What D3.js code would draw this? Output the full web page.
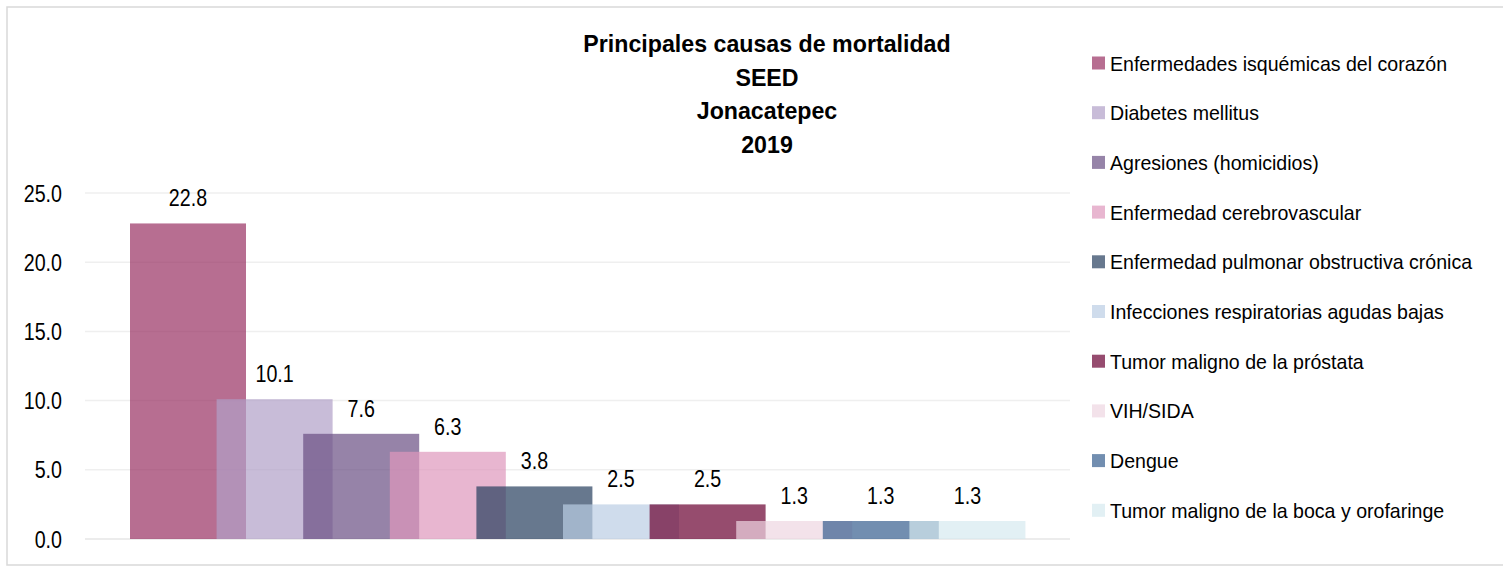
<!DOCTYPE html>
<html>
<head>
<meta charset="utf-8">
<script src="https://cdn.jsdelivr.net/npm/d3@7"></script>
<style>
  body { margin: 0; background: #fff; }
  text { font-family: "Liberation Sans", Arial, sans-serif; fill: #000; }
</style>
</head>
<body>
<svg id="chart"></svg>
<script>
const causes = [
  "Enfermedades isquémicas del corazón",
  "Diabetes mellitus",
  "Agresiones (homicidios)",
  "Enfermedad cerebrovascular",
  "Enfermedad pulmonar obstructiva crónica",
  "Infecciones respiratorias agudas bajas",
  "Tumor maligno de la próstata",
  "VIH/SIDA",
  "Dengue",
  "Tumor maligno de la boca y orofaringe"
];
const rates = [22.8, 10.1, 7.6, 6.3, 3.8, 2.5, 2.5, 1.3, 1.3, 1.3];
const yTicks = [0, 5, 10, 15, 20, 25];
const titleLines = ["Principales causas de mortalidad", "SEED", "Jonacatepec", "2019"];
// colour as seen over white; bars are drawn with some transparency
const seenColors = ["#b76e91", "#c8bcd8", "#9684a8", "#e8b6d0", "#67788e",
                    "#cfdcec", "#964c6f", "#f3e2ea", "#728eb0", "#e2f0f4"];

const W = 1503, H = 566;
const alpha = 0.7;
const trueColor = c => {
  const s = d3.rgb(c);
  const f = v => Math.max(0, Math.min(255, (v - (1 - alpha) * 255) / alpha));
  return d3.rgb(f(s.r), f(s.g), f(s.b)).formatHex();
};
// the source font is narrow, squeeze text horizontally
const narrow = (sx) => (d, i, n) => {
  const t = d3.select(n[i]);
  return `translate(${t.attr("data-x")},${t.attr("data-y")}) scale(${sx},1)`;
};

const svg = d3.select("#chart").attr("width", W).attr("height", H);

// chart frame
svg.append("rect")
    .attr("x", 7).attr("y", 7)
    .attr("width", 1505).attr("height", 558)
    .attr("fill", "#fff")
    .attr("stroke", "#d9d9d9")
    .attr("stroke-width", 1.5);

const plotL = 85, plotR = 1070;
const y = d3.scaleLinear().domain([0, 25]).range([539, 193]);

// grid lines
svg.append("g").selectAll("line")
    .data(yTicks)
    .join("line")
    .attr("x1", plotL).attr("x2", plotR)
    .attr("y1", d => y(d)).attr("y2", d => y(d))
    .attr("stroke", d => d === 0 ? "#e6e6e6" : "#efefef")
    .attr("stroke-width", 1.5);

// y axis labels
svg.append("g").selectAll("text")
    .data(yTicks)
    .join("text")
    .attr("data-x", 62)
    .attr("data-y", d => y(d) + 8.5)
    .attr("transform", narrow(0.82))
    .attr("text-anchor", "end")
    .attr("font-size", 24)
    .text(d => d.toFixed(1));

// overlapping bars, one per cause
const step = 86.6;
const x = d3.scaleBand()
    .domain(causes)
    .range([130, 130 + step * causes.length])
    .paddingInner(0).paddingOuter(0);
const barW = 116;

svg.append("g").selectAll("rect")
    .data(causes)
    .join("rect")
    .attr("x", d => x(d))
    .attr("y", (d, i) => y(rates[i]))
    .attr("width", barW)
    .attr("height", (d, i) => y(0) - y(rates[i]))
    .attr("fill", (d, i) => trueColor(seenColors[i]))
    .attr("fill-opacity", alpha);

// value labels
svg.append("g").selectAll("text")
    .data(causes)
    .join("text")
    .attr("data-x", d => x(d) + barW / 2)
    .attr("data-y", (d, i) => y(rates[i]) - 17)
    .attr("transform", narrow(0.82))
    .attr("text-anchor", "middle")
    .attr("font-size", 24)
    .text((d, i) => rates[i].toFixed(1));

// title
svg.append("g").selectAll("text")
    .data(titleLines)
    .join("text")
    .attr("x", 767)
    .attr("y", (d, i) => 52 + i * 33.5)
    .attr("text-anchor", "middle")
    .attr("font-size", 23.2)
    .attr("font-weight", "bold")
    .text(d => d);

// legend
const legend = svg.append("g").selectAll("g")
    .data(causes)
    .join("g")
    .attr("transform", (d, i) => `translate(1092, ${63 + i * 49.7})`);
legend.append("rect")
    .attr("x", 0).attr("y", -6.5)
    .attr("width", 13).attr("height", 13)
    .attr("fill", (d, i) => seenColors[i]);
legend.append("text")
    .attr("data-x", 18)
    .attr("data-y", 7.5)
    .attr("transform", narrow(0.955))
    .attr("font-size", 20.5)
    .text(d => d);
</script>
</body>
</html>
